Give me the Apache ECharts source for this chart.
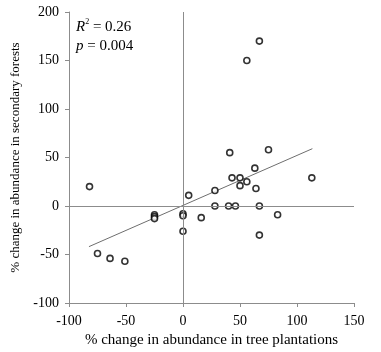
<!DOCTYPE html>
<html>
<head>
<meta charset="utf-8">
<script src="https://cdn.jsdelivr.net/npm/echarts@6/dist/echarts.min.js"></script>
<style>
  html, body { margin: 0; padding: 0; background: #fff; }
  #chart { width: 381px; height: 352px; }
</style>
</head>
<body>
<div id="chart"></div>
<script>
// % change in tree plantations (x) vs secondary forests (y)
const plantationChange = [-82, -75, -64, -51, -25, -25, -25, 0, 0, 0, 5, 16, 28, 28, 40, 46, 41, 43, 50, 50, 56, 56, 67, 63, 64, 67, 67, 75, 83, 113];
const secondaryChange = [20, -49, -54, -57, -9, -11, -13, -8, -10, -26, 11, -12, 16, 0, 0, 0, 55, 29, 29, 21, 25, 150, 170, 39, 18, 0, -30, 58, -9, 29];

// regression line end points
const trendX = [-82.5, 113.5];
const trendY = [-41.9, 59.1];

const xTicks = [-100, -50, 0, 50, 100, 150];
const yTicks = [-100, -50, 0, 50, 100, 150, 200];

const chart = echarts.init(document.getElementById('chart'));

const points = plantationChange.map((x, i) => [x, secondaryChange[i]]);
const trend = trendX.map((x, i) => [x, trendY[i]]);

const font = '"Liberation Serif", "Times New Roman", serif';
const gray = '#8c8c8c';

chart.setOption({
  animation: false,
  grid: { left: 69, right: 27, top: 12, bottom: 49, outerBoundsMode: 'none', containLabel: false },
  xAxis: {
    type: 'value',
    min: xTicks[0],
    max: xTicks[xTicks.length - 1],
    interval: 50,
    name: '% change in abundance in tree plantations',
    nameLocation: 'middle',
    nameGap: 28,
    nameTextStyle: { fontFamily: font, fontSize: 15, color: '#000' },
    axisLine: { onZero: false, lineStyle: { color: gray, width: 1 } },
    axisTick: { show: true, length: 4, lineStyle: { color: gray } },
    axisLabel: { fontFamily: font, fontSize: 14, color: '#000', margin: 11 },
    splitLine: { show: false }
  },
  yAxis: {
    type: 'value',
    min: yTicks[0],
    max: yTicks[yTicks.length - 1],
    interval: 50,
    name: '% change in abundance in secondary forests',
    nameLocation: 'middle',
    nameGap: 44,
    nameTextStyle: { fontFamily: font, fontSize: 13, color: '#000' },
    axisLine: { show: true, onZero: false, lineStyle: { color: gray, width: 1 } },
    axisTick: { show: true, length: 4, lineStyle: { color: gray } },
    axisLabel: { fontFamily: font, fontSize: 14, color: '#000', margin: 10 },
    splitLine: { show: false }
  },
  series: [
    {
      type: 'line',
      data: trend,
      symbol: 'none',
      lineStyle: { color: '#6e6e6e', width: 1 },
      silent: true,
      z: 1,
      markLine: {
        silent: true,
        symbol: 'none',
        label: { show: false },
        lineStyle: { color: gray, width: 1, type: 'solid' },
        data: [{ xAxis: 0 }, { yAxis: 0 }]
      }
    },
    {
      type: 'scatter',
      data: points,
      symbol: 'circle',
      symbolSize: 6,
      itemStyle: { color: '#fff', borderColor: '#000', borderWidth: 1.6 },
      z: 3
    }
  ],
  graphic: [
    {
      type: 'text',
      left: 76,
      top: 18,
      style: {
        text: '{i|R}{s|2}{n| = 0.26}\n{i|p}{n| = 0.004}',
        rich: {
          i: { fontFamily: font, fontSize: 15, fontStyle: 'italic', fill: '#000', lineHeight: 19 },
          s: { fontFamily: font, fontSize: 8, fill: '#000', verticalAlign: 'top', lineHeight: 19 },
          n: { fontFamily: font, fontSize: 15, fill: '#000', lineHeight: 19 }
        }
      }
    }
  ]
});
</script>
</body>
</html>
